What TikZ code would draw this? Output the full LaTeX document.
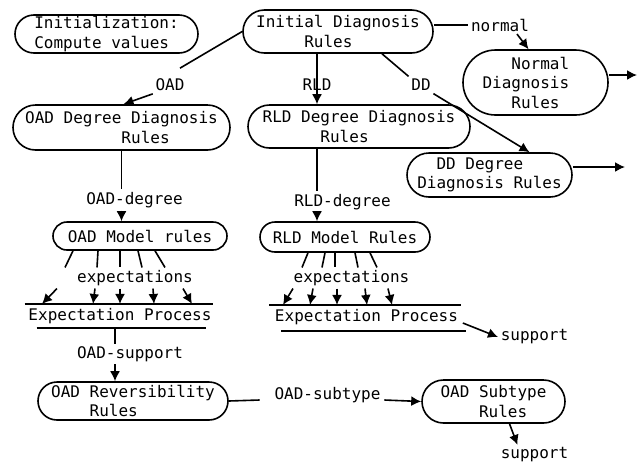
\documentclass[tikz,border=0pt]{standalone}
\usepackage{fontspec}
\setmonofont{DejaVu Sans Mono}
\usetikzlibrary{arrows.meta,shapes.misc}

\begin{document}
\begin{tikzpicture}[x=1pt,y=-1pt,font=\ttfamily\fontsize{16}{19.5}\selectfont,line width=1.6pt,
  rule/.style={draw,rounded rectangle,inner sep=0pt,align=left},
  lbl/.style={inner sep=2pt},
  proc/.style={inner xsep=0pt,inner ysep=3.5pt},
  arr/.style={-{Latex[length=10pt,width=10pt]}}]
\useasboundingbox (0,0) rectangle (637,464);
\node[rule,minimum width=183,minimum height=38] (init) at (106.5,34) {Initialization:\\Compute values};
\node[rule,minimum width=190,minimum height=43] (initdiag) at (338,31.5) {Initial Diagnosis\\\phantom{xxxxx}Rules};
\node[rule,minimum width=145,minimum height=65] (normal) at (535.5,82.5) {\phantom{xxx}Normal\\Diagnosis\phantom{xx}\\\phantom{xxx}Rules};
\node[rule,minimum width=217,minimum height=45] (oaddeg) at (121.5,127.5) {OAD Degree Diagnosis\\\phantom{xxxxxxxxxx}Rules};
\node[rule,minimum width=222,minimum height=43] (rlddeg) at (359,126.5) {RLD Degree Diagnosis\\\phantom{xxxxxx}Rules};
\node[rule,minimum width=165,minimum height=44] (dddeg) at (489.5,175) {\phantom{xx}DD Degree\\Diagnosis Rules};
\node[rule,minimum width=174,minimum height=28] (oadmodel) at (140,236) {OAD Model rules};
\node[rule,minimum width=170,minimum height=30] (rldmodel) at (345,237) {RLD Model Rules};
\node[proc] (oadexp) at (120,316) {Expectation Process};
\node[proc] (rldexp) at (366.5,317) {Expectation Process};
\node[rule,minimum width=190,minimum height=38] (oadrev) at (133,401) {OAD Reversibility\\\phantom{xxxx}Rules};
\node[rule,minimum width=143,minimum height=43] (oadsub) at (493.5,401.5) {OAD Subtype\\\phantom{xxxx}Rules};
\node[lbl] (oadlbl) at (170,85) {OAD};
\node[lbl] (rldlbl) at (317,85) {RLD};
\node[lbl] (ddlbl) at (421,85) {DD};
\node[lbl] (normlbl) at (500,25) {normal};
\node[lbl] (oaddeglbl) at (134.5,200) {OAD-degree};
\node[lbl] (rlddeglbl) at (342.5,202) {RLD-degree};
\node[lbl] (oadexpl) at (135,278) {expectations};
\node[lbl] (rldexpl) at (351.5,278) {expectations};
\node[lbl] (oadsupl) at (130,354) {OAD-support};
\node[lbl] (rldsupl) at (534.5,337) {support};
\node[lbl] (subl) at (327.5,395) {OAD-subtype};
\node[lbl] (subsupl) at (534.5,455) {support};
\coordinate (normout) at (637,75);
\coordinate (ddout) at (625,167);
\draw (initdiag.west) -- ([shift={(10,-8)}]oadlbl.north);
\draw[arr] (oadlbl.south west) -- ([xshift=2]oaddeg.north);
\draw[arr] (initdiag.south -| rldlbl) -- (rlddeg.north -| rldlbl);
\draw ([xshift=44]initdiag.south) -- (ddlbl.north west);
\draw[arr] (ddlbl.south east) -- ([xshift=40]dddeg.north);
\draw (initdiag.east |- normlbl) -- (normlbl.west);
\draw[arr] ([xshift=17]normlbl.south) -- ([xshift=-7]normal.north);
\draw[arr] (normal.east |- normout) -- (normout);
\draw[arr] (dddeg.east |- ddout) -- (ddout);
\draw (oaddeg.south) -- (oaddeg.south |- oaddeglbl.north);
\draw[arr] (oaddeg.south |- oaddeglbl.south) -- (oaddeg.south |- oadmodel.north);
\draw (rldlbl |- rlddeg.south) -- (rldlbl |- rlddeglbl.north);
\draw[arr] (rldlbl |- rlddeglbl.south) -- (rldlbl |- rldmodel.north);
\foreach \a/\b in {-67/-70,-42/-38,-20/-15,-2/7,15/30}
  \draw ([xshift=\a]oadmodel.south) -- ([xshift=\b]oadexpl.north);
\foreach \a/\b in {-78/-78,-40/-27,-15/0,18/34,48/72}
  \draw[arr] ([xshift=\a]oadexpl.south) -- ([xshift=\b]oadexp.north);
\foreach \a/\b in {-37/-49.5,-20/-29.5,-10/-16.5,10/6.5,25/25.5}
  \draw ([xshift=\a]rldmodel.south) -- ([xshift=\b]rldexpl.north);
\foreach \a/\b in {-58.5/-83.5,-38.5/-56.5,-14.5/-29.5,13.5/0.5,36.5/25.5}
  \draw[arr] ([xshift=\a]rldexpl.south) -- ([xshift=\b]rldexp.north);
\draw ([xshift=-3]oadexp.north west) -- ([xshift=1]oadexp.north east);
\draw ([xshift=9]oadexp.south west) -- ([xshift=-6]oadexp.south east);
\draw ([xshift=-5]rldexp.north west) -- ([xshift=2]rldexp.north east);
\draw ([shift={(7,2)}]rldexp.south west) -- ([shift={(7,2)}]rldexp.south east);
\draw[arr] ([shift={(4,6)}]rldexp.east) -- (rldsupl.west);
\draw ([xshift=-5]oadexp.south) -- ([xshift=-15]oadsupl.north);
\draw[arr] ([xshift=-15]oadsupl.south) -- ([xshift=-18]oadrev.north);
\draw (oadrev.east) -- ([shift={(-12,5)}]subl.west);
\draw[arr] ([shift={(1,5)}]subl.east) -- (oadsub.west);
\draw[arr] ([xshift=16]oadsub.south) -- ([xshift=-17]subsupl.north);
\end{tikzpicture}
\end{document}
